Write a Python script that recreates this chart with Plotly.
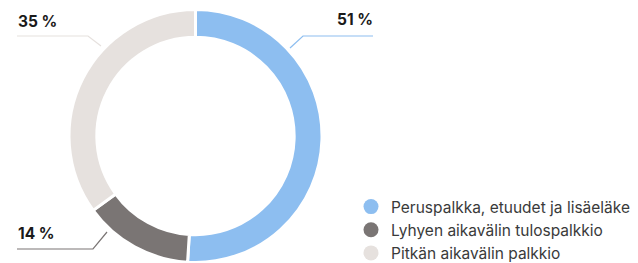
import plotly.graph_objects as go

W, H = 638, 263

categories = ["Peruspalkka, etuudet ja lisäeläke", "Lyhyen aikavälin tulospalkkio", "Pitkän aikavälin palkkio"]
values = [51, 14, 35]
label_texts = [f"{v} %" for v in values]

colors = ["#8DBEF0", "#7A7574", "#E6E1DE"]

# label / leader layout in pixel space (style/positions, not data)
label_layout = [
    dict(tx=375, ty=20, xanchor="right", pts=[(290, 48), (303, 36), (373, 36)]),
    dict(tx=16, ty=233, xanchor="left", pts=[(107, 232), (93, 249), (17, 249)]),
    dict(tx=16, ty=21, xanchor="left", pts=[(101, 46), (88, 36), (17, 36)]),
]

def px(x):
    return x / W

def py(y):
    return 1 - y / H

fig = go.Figure()

cx, cy, r = 195.5, 136, 126.5
fig.add_trace(go.Pie(
    labels=categories,
    values=values,
    hole=0.78,
    sort=False,
    direction="clockwise",
    rotation=0,
    marker=dict(colors=colors, line=dict(color="white", width=3)),
    textinfo="none",
    hoverinfo="label+percent",
    showlegend=False,
    domain=dict(x=[px(cx - r), px(cx + r)], y=[py(cy + r), py(cy - r)]),
))

for name, col in zip(categories, colors):
    fig.add_trace(go.Scatter(
        x=[None], y=[None], mode="markers", name=name,
        marker=dict(color=col, size=15, symbol="circle"),
        showlegend=True,
    ))

shapes = []
annotations = []
for txt, col, lay in zip(label_texts, colors, label_layout):
    pts = lay["pts"]
    path = "M " + " L ".join(f"{px(x)},{py(y)}" for x, y in pts)
    shapes.append(dict(type="path", xref="paper", yref="paper", path=path,
                       line=dict(color=col, width=1.2)))
    annotations.append(dict(x=px(lay["tx"]), y=py(lay["ty"]), xref="paper", yref="paper",
                            text=f"<b>{txt}</b>", showarrow=False,
                            xanchor=lay["xanchor"], yanchor="middle",
                            font=dict(family="Inter", size=15.5, color="#1a1a1a")))

fig.update_layout(
    width=W, height=H,
    margin=dict(l=0, r=0, t=0, b=0, autoexpand=False),
    paper_bgcolor="white", plot_bgcolor="white",
    xaxis=dict(visible=False), yaxis=dict(visible=False),
    shapes=shapes, annotations=annotations,
    legend=dict(x=px(351), y=py(190), xanchor="left", yanchor="top",
                font=dict(family="Inter", size=15.5, color="#3a3a3a"),
                bgcolor="rgba(0,0,0,0)", tracegroupgap=0, itemwidth=30),
    font=dict(family="Inter"),
)

fig.write_html("out.html", config={"displayModeBar": False},
               post_script="document.body.style.margin='0';document.body.style.overflow='hidden';")
